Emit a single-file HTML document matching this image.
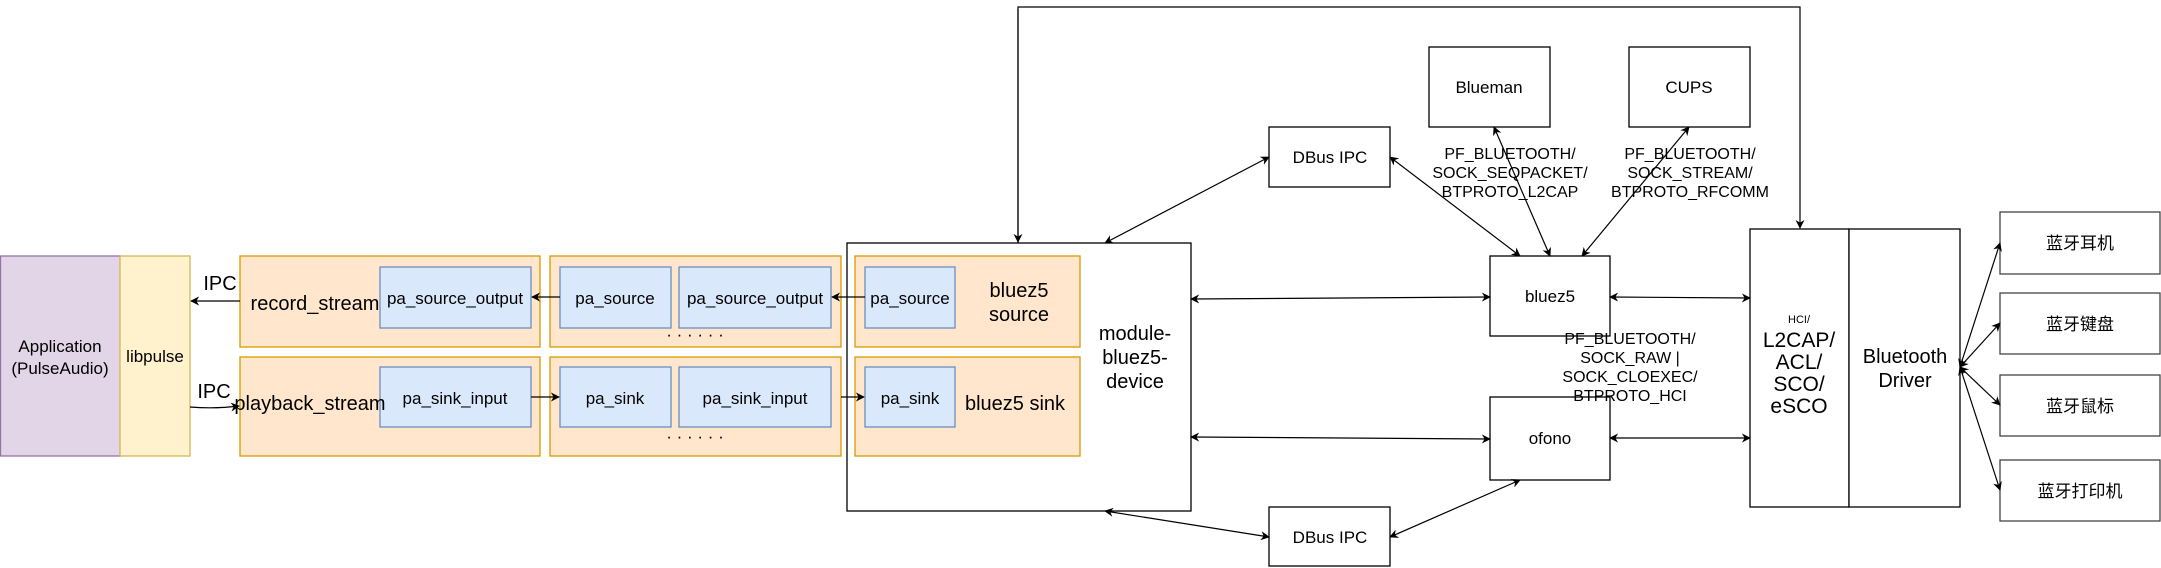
<!DOCTYPE html>
<html><head><meta charset="utf-8"><style>
html,body{margin:0;padding:0;background:#fff;}
svg{display:block;}
text{font-family:"Liberation Sans","Noto Sans CJK SC",sans-serif;fill:#000;}
</style></head><body>
<svg width="2161" height="568" viewBox="0 0 2161 568" xmlns="http://www.w3.org/2000/svg">
<defs>
<marker id="a" viewBox="0 0 10 10" refX="9" refY="5" markerWidth="9" markerHeight="9" markerUnits="userSpaceOnUse" orient="auto-start-reverse">
<path d="M0,0 L10,5 L0,10 L3,5 z" fill="#000"/></marker>
</defs>
<g stroke-width="1.3">
<rect x="0.5" y="256" width="120" height="200" fill="#e1d5e7" stroke="#9673a6"/>
<rect x="120" y="256" width="70" height="200" fill="#fff2cc" stroke="#d6b656"/>
<rect x="1750" y="229" width="99" height="278" fill="#fff" stroke="#000"/>
<rect x="1849" y="229" width="111" height="278" fill="#fff" stroke="#000"/>
<rect x="847" y="243" width="344" height="268" fill="#fff" stroke="#000"/>
<rect x="240" y="256" width="300" height="91" fill="#ffe6cc" stroke="#d79b00"/>
<rect x="240" y="357" width="300" height="99" fill="#ffe6cc" stroke="#d79b00"/>
<rect x="550" y="256" width="291" height="91" fill="#ffe6cc" stroke="#d79b00"/>
<rect x="550" y="357" width="291" height="99" fill="#ffe6cc" stroke="#d79b00"/>
<rect x="855" y="256" width="225" height="91" fill="#ffe6cc" stroke="#d79b00"/>
<rect x="855" y="357" width="225" height="99" fill="#ffe6cc" stroke="#d79b00"/>
<g fill="#dae8fc" stroke="#6c8ebf">
<rect x="380" y="267" width="151" height="61"/>
<rect x="560" y="267" width="111" height="61"/>
<rect x="679" y="267" width="152" height="61"/>
<rect x="865" y="267" width="90" height="61"/>
<rect x="380" y="367" width="151" height="60"/>
<rect x="560" y="367" width="111" height="60"/>
<rect x="679" y="367" width="152" height="60"/>
<rect x="865" y="367" width="90" height="60"/>
</g>
<g fill="#fff" stroke="#000">
<rect x="1269" y="127" width="121" height="60"/>
<rect x="1429" y="47" width="121" height="80"/>
<rect x="1629" y="47" width="121" height="80"/>
<rect x="1490" y="256" width="120" height="80"/>
<rect x="1490" y="397" width="120" height="83"/>
<rect x="1269" y="507" width="121" height="59"/>
<rect x="2000" y="212" width="160" height="62" stroke="#444"/>
<rect x="2000" y="293" width="160" height="61" stroke="#444"/>
<rect x="2000" y="375" width="160" height="61" stroke="#444"/>
<rect x="2000" y="460" width="160" height="61" stroke="#444"/>
</g>
</g>
<g stroke="#000" stroke-width="1.2" fill="none">
<line x1="240" y1="301" x2="191" y2="301" marker-end="url(#a)"/>
<path d="M190,407 Q215,409 239,406" marker-end="url(#a)"/>
<line x1="560" y1="297" x2="532" y2="297" marker-end="url(#a)"/>
<line x1="865" y1="297" x2="832" y2="297" marker-end="url(#a)"/>
<line x1="531" y1="397" x2="559" y2="397" marker-end="url(#a)"/>
<line x1="841" y1="397" x2="864" y2="397" marker-end="url(#a)"/>
<polyline points="1018,243 1018,7 1800,7 1800,228" marker-end="url(#a)"/>
<polyline points="1018,9 1018,242" marker-end="url(#a)"/>
<line x1="1191" y1="299" x2="1490" y2="297" marker-start="url(#a)" marker-end="url(#a)"/>
<line x1="1191" y1="437" x2="1490" y2="439" marker-start="url(#a)" marker-end="url(#a)"/>
<line x1="1610" y1="297" x2="1750" y2="298" marker-start="url(#a)" marker-end="url(#a)"/>
<line x1="1610" y1="438" x2="1750" y2="438" marker-start="url(#a)" marker-end="url(#a)"/>
<line x1="1105" y1="243" x2="1269" y2="157" marker-start="url(#a)" marker-end="url(#a)"/>
<line x1="1390" y1="157" x2="1520" y2="256" marker-start="url(#a)" marker-end="url(#a)"/>
<line x1="1494" y1="127" x2="1550" y2="256" marker-start="url(#a)" marker-end="url(#a)"/>
<line x1="1689" y1="127" x2="1582" y2="256" marker-start="url(#a)" marker-end="url(#a)"/>
<line x1="1105" y1="511" x2="1269" y2="537" marker-start="url(#a)" marker-end="url(#a)"/>
<line x1="1390" y1="537" x2="1520" y2="480" marker-start="url(#a)" marker-end="url(#a)"/>
<line x1="1960" y1="367" x2="2000" y2="243" marker-start="url(#a)" marker-end="url(#a)"/>
<line x1="1960" y1="367" x2="2000" y2="323" marker-start="url(#a)" marker-end="url(#a)"/>
<line x1="1960" y1="367" x2="2000" y2="405" marker-start="url(#a)" marker-end="url(#a)"/>
<line x1="1960" y1="367" x2="2000" y2="490" marker-start="url(#a)" marker-end="url(#a)"/>
</g>
<g text-anchor="middle" font-size="17">
<text x="60" y="352">Application</text>
<text x="60" y="374">(PulseAudio)</text>
<text x="155" y="362">libpulse</text>
<text x="220" y="290" font-size="20">IPC</text>
<text x="214" y="398" font-size="20">IPC</text>
<text x="315" y="310" font-size="20">record_stream</text>
<text x="310" y="410" font-size="20">playback_stream</text>
<text x="455" y="304">pa_source_output</text>
<text x="615" y="304">pa_source</text>
<text x="755" y="304">pa_source_output</text>
<text x="910" y="304">pa_source</text>
<text x="455" y="404">pa_sink_input</text>
<text x="615" y="404">pa_sink</text>
<text x="755" y="404">pa_sink_input</text>
<text x="910" y="404">pa_sink</text>
<text x="695" y="340">· · · · · ·</text>
<text x="695" y="442">· · · · · ·</text>
<text x="1019" y="297" font-size="20">bluez5</text>
<text x="1019" y="321" font-size="20">source</text>
<text x="1015" y="410" font-size="20">bluez5 sink</text>
<text x="1135" y="340" font-size="20">module-</text>
<text x="1135" y="364" font-size="20">bluez5-</text>
<text x="1135" y="388" font-size="20">device</text>
<text x="1330" y="163">DBus IPC</text>
<text x="1330" y="543">DBus IPC</text>
<text x="1489" y="93">Blueman</text>
<text x="1689" y="93">CUPS</text>
<text x="1550" y="302">bluez5</text>
<text x="1550" y="444">ofono</text>
<text x="1510" y="159" font-size="16">PF_BLUETOOTH/</text>
<text x="1510" y="178" font-size="16">SOCK_SEQPACKET/</text>
<text x="1510" y="197" font-size="16">BTPROTO_L2CAP</text>
<text x="1690" y="159" font-size="16">PF_BLUETOOTH/</text>
<text x="1690" y="178" font-size="16">SOCK_STREAM/</text>
<text x="1690" y="197" font-size="16">BTPROTO_RFCOMM</text>
<text x="1630" y="344" font-size="16">PF_BLUETOOTH/</text>
<text x="1630" y="363" font-size="16">SOCK_RAW |</text>
<text x="1630" y="382" font-size="16">SOCK_CLOEXEC/</text>
<text x="1630" y="401" font-size="16">BTPROTO_HCI</text>
<text x="1799" y="323" font-size="11">HCI/</text>
<text x="1799" y="347" font-size="21">L2CAP/</text>
<text x="1799" y="369" font-size="21">ACL/</text>
<text x="1799" y="391" font-size="21">SCO/</text>
<text x="1799" y="413" font-size="21">eSCO</text>
<text x="1905" y="363" font-size="20">Bluetooth</text>
<text x="1905" y="387" font-size="20">Driver</text>
<text x="2080" y="249">蓝牙耳机</text>
<text x="2080" y="330">蓝牙键盘</text>
<text x="2080" y="412">蓝牙鼠标</text>
<text x="2080" y="497">蓝牙打印机</text>
</g>
</svg>
</body></html>
